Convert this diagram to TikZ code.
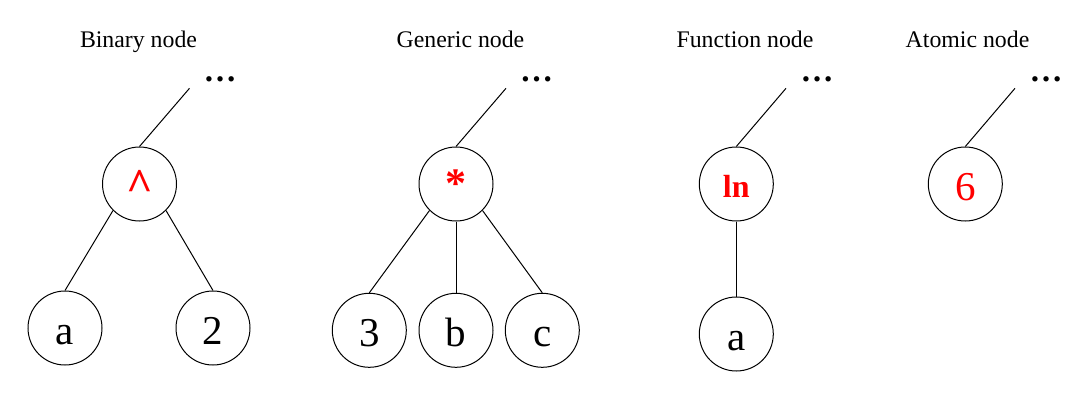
\documentclass[tikz,border=0pt]{standalone}
\usepackage{fontspec}
\setmainfont{Liberation Serif}
\begin{document}
\begin{tikzpicture}[x=1pt,y=-1pt,line width=1pt,
  tn/.style={circle,draw,minimum size=74pt,inner sep=0pt,text height=32pt,text depth=0pt,font=\fontsize{41}{41}\selectfont},
  op/.style={tn,text=red},
  title/.style={anchor=base,font=\fontsize{23.8}{24}\selectfont},
  dotsn/.style={anchor=base,font=\fontsize{33}{33}\selectfont\bfseries,inner sep=0pt}]
\useasboundingbox (0,0) rectangle (1083,402);
% titles
\node[title] (t1) at (138.5,47) {Binary node};
\node[title] (t2) at (460.5,47) {Generic node};
\node[title] (t3) at (745,47) {Function node};
\node[title] (t4) at (967.5,47) {Atomic node};
% binary
\node[op,font=\fontsize{46}{46}\selectfont\bfseries] (pow) at (139.5,184) {\^{}};
\node[tn] (ba) at (65,328) {a};
\node[tn] (b2) at (213,328) {2};
\coordinate (u1) at (189.5,88.3);
\node[dotsn] (d1) at (220,81) {…};
\draw (pow.north) -- (u1);
\draw (pow.south west) -- (ba.north);
\draw (pow.south east) -- (b2.north);
% generic
\node[op,font=\fontsize{42}{42}\selectfont\bfseries,text height=26pt] (mul) at (456,184) {*};
\node[tn] (g3) at (369.3,330.3) {3};
\node[tn] (gb) at (456,330.3) {b};
\node[tn] (gc) at (542.3,330.3) {c};
\coordinate (u2) at (506,88.3);
\node[dotsn] (d2) at (536.5,81) {…};
\draw (mul.north) -- (u2);
\draw (mul.south west) -- (g3.north);
\draw (mul.south) -- (gb.north);
\draw (mul.south east) -- (gc.north);
% function
\node[op,font=\fontsize{32}{32}\selectfont\bfseries,text height=26pt] (ln) at (736.3,184) {ln};
\node[tn] (fa) at (736.3,334) {a};
\coordinate (u3) at (786,88.3);
\node[dotsn] (d3) at (817,81) {…};
\draw (ln.north) -- (u3);
\draw (ln.south) -- (fa.north);
% atomic
\node[op] (six) at (965.3,184) {6};
\coordinate (u4) at (1015,88.3);
\node[dotsn] (d4) at (1046,81) {…};
\draw (six.north) -- (u4);
\end{tikzpicture}
\end{document}
